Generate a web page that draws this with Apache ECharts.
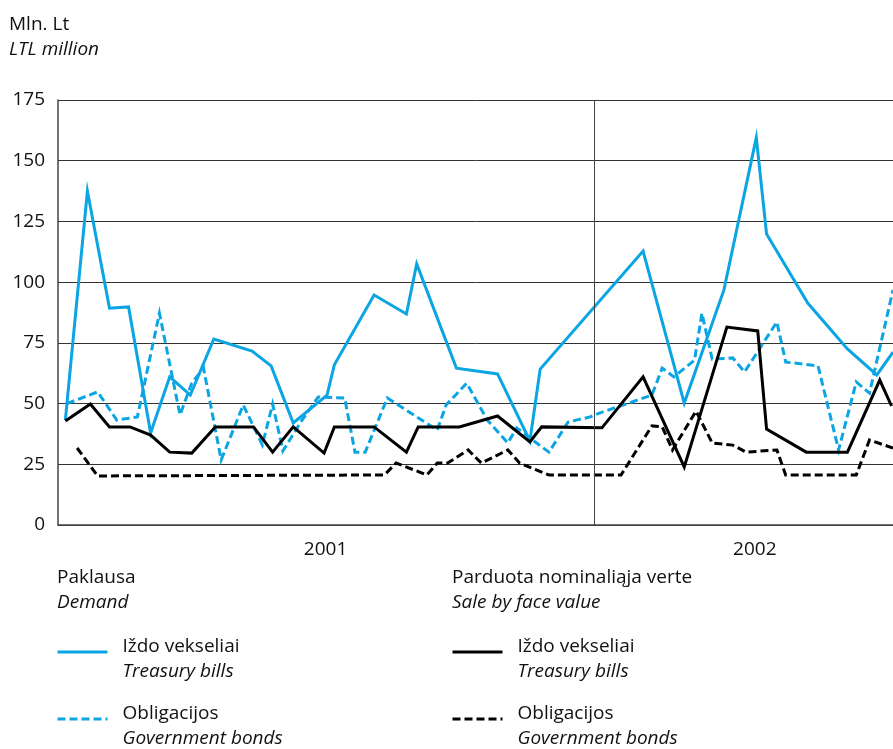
<!DOCTYPE html>
<html><head><meta charset="utf-8">
<script src="https://cdn.jsdelivr.net/npm/echarts@6/dist/echarts.min.js"></script>
<style>html,body{margin:0;padding:0;background:#fff}#c{width:893px;height:749px}</style>
</head><body><div id="c"></div>
<script>
// x = days since 2001-01-01 (estimated), y = LTL million
const demandBills = [[5,43.2],[20,137.5],[35,89.3],[48,89.8],[63,37.9],[76,61],[90,53.5],[106,76.6],[132,71.6],[145,65.5],[160,42],[183,53.5],[188,66],[215,94.7],[237,86.9],[244,107.5],[271,64.6],[299,62.2],[321,34.6],[328,64.2],[398,112.8],[426,50.2],[453,96.8],[475,159.5],[482,119.8],[510,91.4],[537,72.5],[557,61.8],[568,71.2]];
const demandBonds = [[6,50],[27,54.8],[40,43.2],[54,44.5],[69,87.2],[83,45.3],[91,58.4],[99,64.6],[111,26.8],[126,49.4],[139,33],[146,49.8],[153,30.5],[166,43.2],[177,52.7],[195,52.3],[202,30],[209,30],[224,52.3],[258,39.1],[264,49.4],[278,58.4],[292,43.2],[306,33.8],[312,40],[321,35.8],[334,30],[347,42.4],[362,44.5],[368,46],[404,53.5],[411,64.6],[419,61],[433,67.9],[438,87.2],[445,68.3],[459,68.8],[467,63],[489,83.6],[495,67.1],[517,65.5],[531,30.9],[543,58.9],[552,54.3],[568,96.8]];
const saleBills = [[5,42.8],[22,49.8],[35,40.4],[49,40.4],[63,37],[76,30],[91,29.6],[107,40.4],[133,40.4],[146,30],[160,40.4],[181,29.6],[188,40.4],[215,40.4],[237,30],[245,40.4],[273,40.4],[299,44.9],[321,34.2],[329,40.4],[370,40],[398,61],[426,23.9],[455,81.5],[476,79.9],[482,39.5],[509,30],[537,30],[559,59.7],[567,49]];
const saleBonds = [[13,31.7],[27,20.2],[222,20.6],[230,25.5],[251,20.6],[258,25.5],[265,25.5],[279,30.9],[288,25.5],[306,30.9],[314,25.5],[334,20.6],[383,20.6],[404,40.8],[411,40.4],[418,30.9],[434,46.9],[445,33.8],[459,32.9],[468,30],[489,30.9],[495,20.6],[543,20.6],[552,35],[568,31.7]];
const yearLabels = ['2001','2002'];
const yearLabelPos = [182, 474];
const yearBoundary = 365;

const BLUE = '#0aa5e2';
const FONT = 'Open Sans';
const FS = 19;
const chart = echarts.init(document.getElementById('c'), null, {renderer:'canvas'});
const lab = {dB:['Iždo vekseliai','Treasury bills'], dO:['Obligacijos','Government bonds'], sB:['Iždo vekseliai','Treasury bills'], sO:['Obligacijos','Government bonds']};
function mkLegend(data, left){
  return {
    data, left, top:632, height:300, orient:'vertical', itemWidth:50, itemHeight:14, itemGap:23, selectedMode:false,
    itemStyle:{opacity:0},
    lineStyle:{width:3},
    formatter: n => '{a|'+lab[n][0]+'}\n{b|'+lab[n][1]+'}',
    textStyle:{fontFamily:FONT, fontSize:FS, color:'#111', padding:[14,0,0,10],
      rich:{a:{fontFamily:FONT,fontSize:FS,lineHeight:25,color:'#111'},b:{fontFamily:FONT,fontSize:FS,lineHeight:25,fontStyle:'italic',color:'#111'}}}
  };
}
function ser(name, data, color, dashed){
  return {name, type:'line', data, symbol:'none', animation:false,
    lineStyle:{color, width:3, type: dashed ? [8,4] : 'solid', join:'miter'},
    itemStyle:{color}};
}
const s0 = ser('dB', demandBills, BLUE, false);
s0.markLine = {silent:true, symbol:'none', label:{show:false}, lineStyle:{color:'#444', width:1, type:'solid'}, data:[{xAxis:yearBoundary}]};
function ttl(text, sub, left, top){
  return {text, subtext:sub, left, top, itemGap:6,
     textStyle:{fontFamily:FONT,fontSize:FS,fontWeight:'normal',color:'#111'},
     subtextStyle:{fontFamily:FONT,fontSize:FS,fontStyle:'italic',color:'#111'}};
}
chart.setOption({
  animation:false,
  textStyle:{fontFamily:FONT},
  title:[
    ttl('Mln. Lt','LTL million',4,10),
    ttl('Paklausa','Demand',52,563),
    ttl('Parduota nominaliąja verte','Sale by face value',447,563)
  ],
  legend:[ mkLegend(['dB','dO'], 51), mkLegend(['sB','sO'], 446) ],
  grid:{left:58, right:0, top:100, bottom:224, containLabel:false},
  xAxis:{type:'value', min:0, max:568,
    axisLine:{show:true, lineStyle:{color:'#444', width:1.5}},
    axisTick:{show:false},
    splitLine:{show:false},
    axisLabel:{customValues:yearLabelPos, formatter:v => v < yearBoundary ? yearLabels[0] : yearLabels[1],
      fontFamily:FONT, fontSize:FS, color:'#111', margin:15}},
  yAxis:{type:'value', min:0, max:175, interval:25,
    axisLine:{show:true, lineStyle:{color:'#444', width:1.5}},
    axisTick:{show:false},
    splitLine:{show:true, lineStyle:{color:'#333', width:1}},
    axisLabel:{fontFamily:FONT, fontSize:FS, color:'#111', margin:13}},
  series:[s0, ser('dO', demandBonds, BLUE, true), ser('sB', saleBills, '#000', false), ser('sO', saleBonds, '#000', true)]
});
</script></body></html>
